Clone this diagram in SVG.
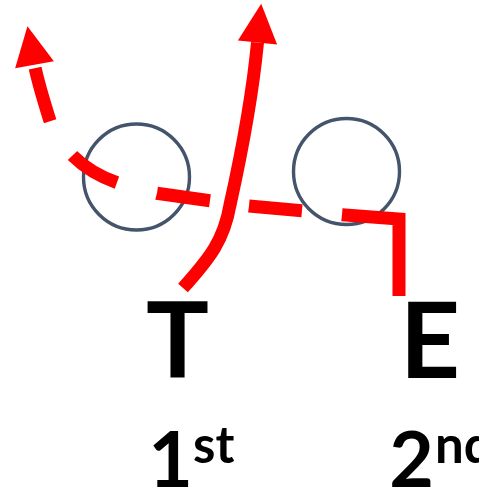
<svg xmlns="http://www.w3.org/2000/svg" width="479" height="492" viewBox="0 0 479 492">
<style>
.player{fill:none;stroke:#44546A;stroke-width:3.4}
.route{fill:none;stroke:#FF0000;stroke-width:13;stroke-linejoin:miter;stroke-linecap:butt}
.lbl{font-family:Lato,"Open Sans","Liberation Sans",sans-serif;font-weight:bold;fill:#000}
</style>
<defs>
<marker id="ah" markerUnits="userSpaceOnUse" orient="auto" refX="0" refY="0" markerWidth="1" markerHeight="1" overflow="visible">
<path d="M0,-19.7 L39,0 L0,19.7 Z" fill="#FF0000"/>
</marker>
</defs>
<rect width="479" height="492" fill="#fff"/>
<g id="player-left"><circle class="player" cx="136.5" cy="177" r="53"/></g>
<g id="player-right"><circle class="player" cx="346.5" cy="171.5" r="53"/></g>
<g id="connectors">
<path class="route" stroke-dasharray="134.2 40.2 53.2 39.4 53.5 41.4 52.5 41 55 20" marker-end="url(#ah)" d="M399,296 L399,219 L342,214.8 L302,210.7 L249,206 L210,200.7 L157,193.3 L117,182.7 Q90,173 73,156 Q58,140 50.5,122.5 Q37.5,81 34.5,64.7"/>
<path class="route" marker-end="url(#ah)" d="M183,288 C210,258 224,240 230,205 C240,160 252,100 257.5,42.5"/>
</g>
<g id="label-T"><text class="lbl" x="177.5" y="378" font-size="105" text-anchor="middle">T</text></g>
<g id="label-E"><text class="lbl" x="430" y="378" font-size="105" text-anchor="middle">E</text></g>
<g id="label-1st"><text class="lbl" x="170.5" y="487" font-size="77" text-anchor="middle">1</text><text class="lbl" x="193" y="463" font-size="51">st</text></g>
<g id="label-2nd"><text class="lbl" x="411.5" y="487" font-size="77" text-anchor="middle">2</text><text class="lbl" x="435" y="463" font-size="51">nd</text></g>
</svg>
